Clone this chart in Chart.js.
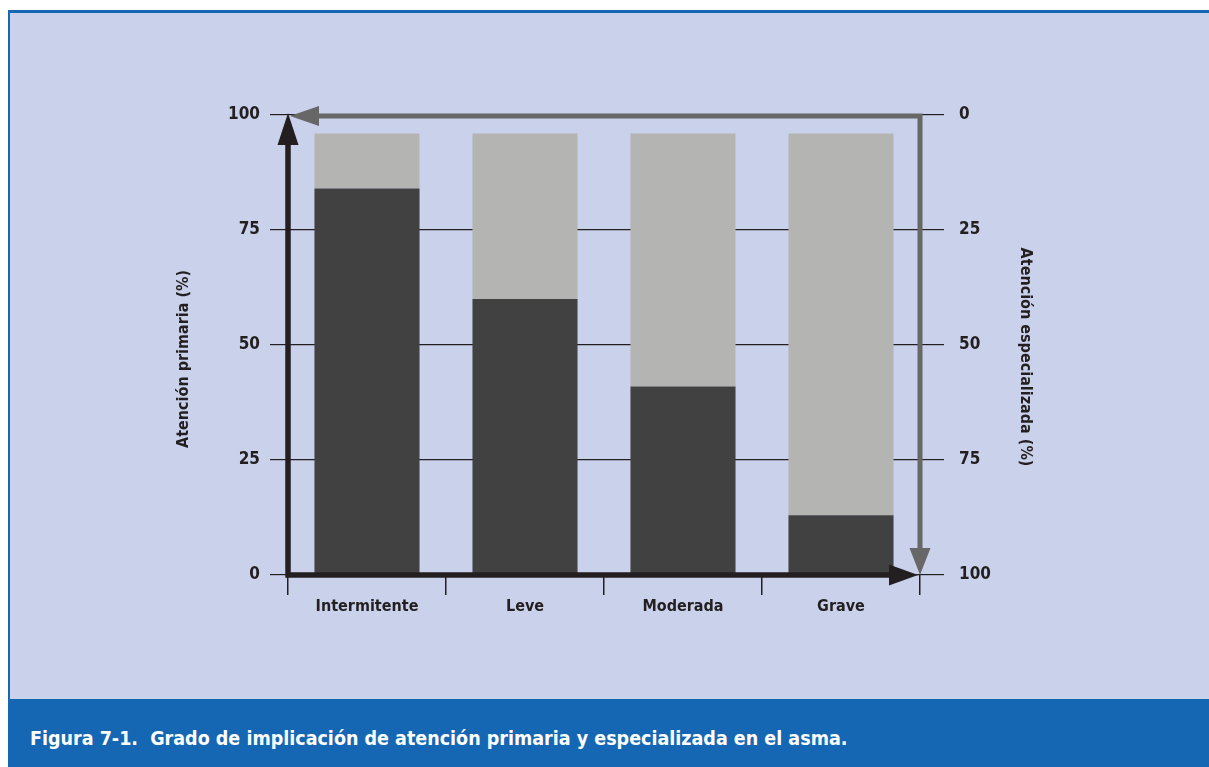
<!DOCTYPE html>
<html>
<head>
<meta charset="utf-8">
<script src="https://cdn.jsdelivr.net/npm/chart.js@4.4.0/dist/chart.umd.min.js"></script>
<style>
  body { margin: 0; background: #fff; width: 1209px; height: 767px; overflow: hidden; position: relative; }
  #panel {
    position: absolute; left: 8px; top: 10px; right: 0; height: 689px;
    background: #cad2eb; border-left: 2px solid #1567b3; border-top: 3px solid #1567b3;
    box-sizing: border-box;
  }
  #caption {
    position: absolute; left: 8px; top: 699px; right: 0; bottom: 0;
    background: #1567b3; color: #fff;
    font-family: 'DejaVu Sans Condensed', sans-serif; font-weight: bold; font-size: 19.5px;
    padding: 29px 0 0 22px; line-height: 22px; box-sizing: border-box;
  }
  #wrap { position: absolute; left: 0; top: 0; width: 1209px; height: 699px; }
</style>
</head>
<body>
<div id="panel"></div>
<div id="wrap"><canvas id="chart"></canvas></div>
<div id="caption">Figura 7-1.&nbsp; Grado de implicación de atención primaria y especializada en el asma.</div>
<script>
// Severity levels and share of patients per care level
const categories = ["Intermitente", "Leve", "Moderada", "Grave"];
const primaria = [84, 60, 41, 13];
const especializada = [12, 36, 55, 83];
const tickValues = [0, 25, 50, 75, 100];

const INK = '#231f20';
const GREY_AXIS = '#676767';
const FONT = "'DejaVu Sans Condensed', sans-serif";

// Axis titles and the arrowed axis frame
const framePlugin = {
  id: 'frame',
  afterDraw(chart) {
    const ctx = chart.ctx;
    const y = chart.scales.y;
    const x0 = chart.chartArea.left, x1 = chart.chartArea.right;
    const yTop = y.getPixelForValue(100), yBot = y.getPixelForValue(0);

    ctx.save();
    ctx.lineJoin = 'miter';
    ctx.lineWidth = 5;

    // specialised care: top line pointing left, right axis pointing down
    ctx.strokeStyle = GREY_AXIS;
    ctx.fillStyle = GREY_AXIS;
    ctx.beginPath();
    ctx.moveTo(x0 + 28, yTop + 1);
    ctx.lineTo(x1, yTop + 1);
    ctx.lineTo(x1, yBot - 25);
    ctx.stroke();
    ctx.beginPath();
    ctx.moveTo(x0 + 2, yTop + 1);
    ctx.lineTo(x0 + 31, yTop - 9);
    ctx.lineTo(x0 + 31, yTop + 11);
    ctx.closePath();
    ctx.fill();
    ctx.beginPath();
    ctx.moveTo(x1, yBot);
    ctx.lineTo(x1 - 10.5, yBot - 27);
    ctx.lineTo(x1 + 10.5, yBot - 27);
    ctx.closePath();
    ctx.fill();

    // primary care: left axis pointing up, bottom axis pointing right
    ctx.lineWidth = 5.5;
    ctx.strokeStyle = INK;
    ctx.fillStyle = INK;
    ctx.beginPath();
    ctx.moveTo(x0, yTop + 28);
    ctx.lineTo(x0, yBot);
    ctx.lineTo(x1 - 28, yBot);
    ctx.stroke();
    ctx.beginPath();
    ctx.moveTo(x0, yTop - 2);
    ctx.lineTo(x0 - 10.5, yTop + 30);
    ctx.lineTo(x0 + 10.5, yTop + 30);
    ctx.closePath();
    ctx.fill();
    ctx.beginPath();
    ctx.moveTo(x1 - 2, yBot);
    ctx.lineTo(x1 - 31, yBot - 10.5);
    ctx.lineTo(x1 - 31, yBot + 10.5);
    ctx.closePath();
    ctx.fill();

    // axis titles
    ctx.font = 'bold 16px ' + FONT;
    ctx.textAlign = 'center';
    ctx.textBaseline = 'middle';
    ctx.translate(184, 359);
    ctx.rotate(-Math.PI / 2);
    ctx.fillText('Atención primaria (%)', 0, 0);
    ctx.setTransform(1, 0, 0, 1, 0, 0);
    ctx.translate(1025, 357);
    ctx.rotate(Math.PI / 2);
    ctx.fillText('Atención especializada (%)', 0, 0);
    ctx.restore();
  }
};

const catFont = { family: FONT, size: 16, weight: 'bold' };
const numFont = { family: FONT, size: 17, weight: 'bold' };

new Chart(document.getElementById('chart'), {
  type: 'bar',
  data: {
    labels: categories,
    datasets: [
      { label: 'Atención primaria', data: primaria, backgroundColor: '#414141' },
      { label: 'Atención especializada', data: especializada, backgroundColor: '#b4b5b3' }
    ]
  },
  options: {
    responsive: true,
    maintainAspectRatio: false,
    animation: false,
    layout: { padding: { top: 115, left: 0, right: 0, bottom: 0 } },
    datasets: { bar: { barPercentage: 1, categoryPercentage: 0.665 } },
    plugins: { legend: { display: false }, tooltip: { enabled: false } },
    scales: {
      x: {
        stacked: true,
        border: { display: false },
        grid: { offset: true, drawOnChartArea: false, tickLength: 20, color: INK, lineWidth: 1.5 },
        ticks: { font: catFont, color: INK, padding: 2 },
        afterFit(s) { s.height = 124; }
      },
      y: {
        stacked: true,
        min: 0, max: 100,
        border: { display: false },
        grid: { color: INK, lineWidth: 1.2, tickLength: 18 },
        afterBuildTicks(s) { s.ticks = tickValues.map(v => ({ value: v })); },
        ticks: { font: numFont, color: INK, padding: 10 },
        afterFit(s) { s.width = 288; }
      },
      y2: {
        position: 'right',
        reverse: true,
        min: 0, max: 100,
        border: { display: false },
        grid: { drawOnChartArea: false, color: INK, lineWidth: 1.2, tickLength: 24 },
        afterBuildTicks(s) { s.ticks = tickValues.map(v => ({ value: v })); },
        ticks: { font: numFont, color: INK, padding: 15 },
        afterFit(s) { s.width = 289; }
      }
    }
  },
  plugins: [framePlugin]
});
</script>
</body>
</html>
